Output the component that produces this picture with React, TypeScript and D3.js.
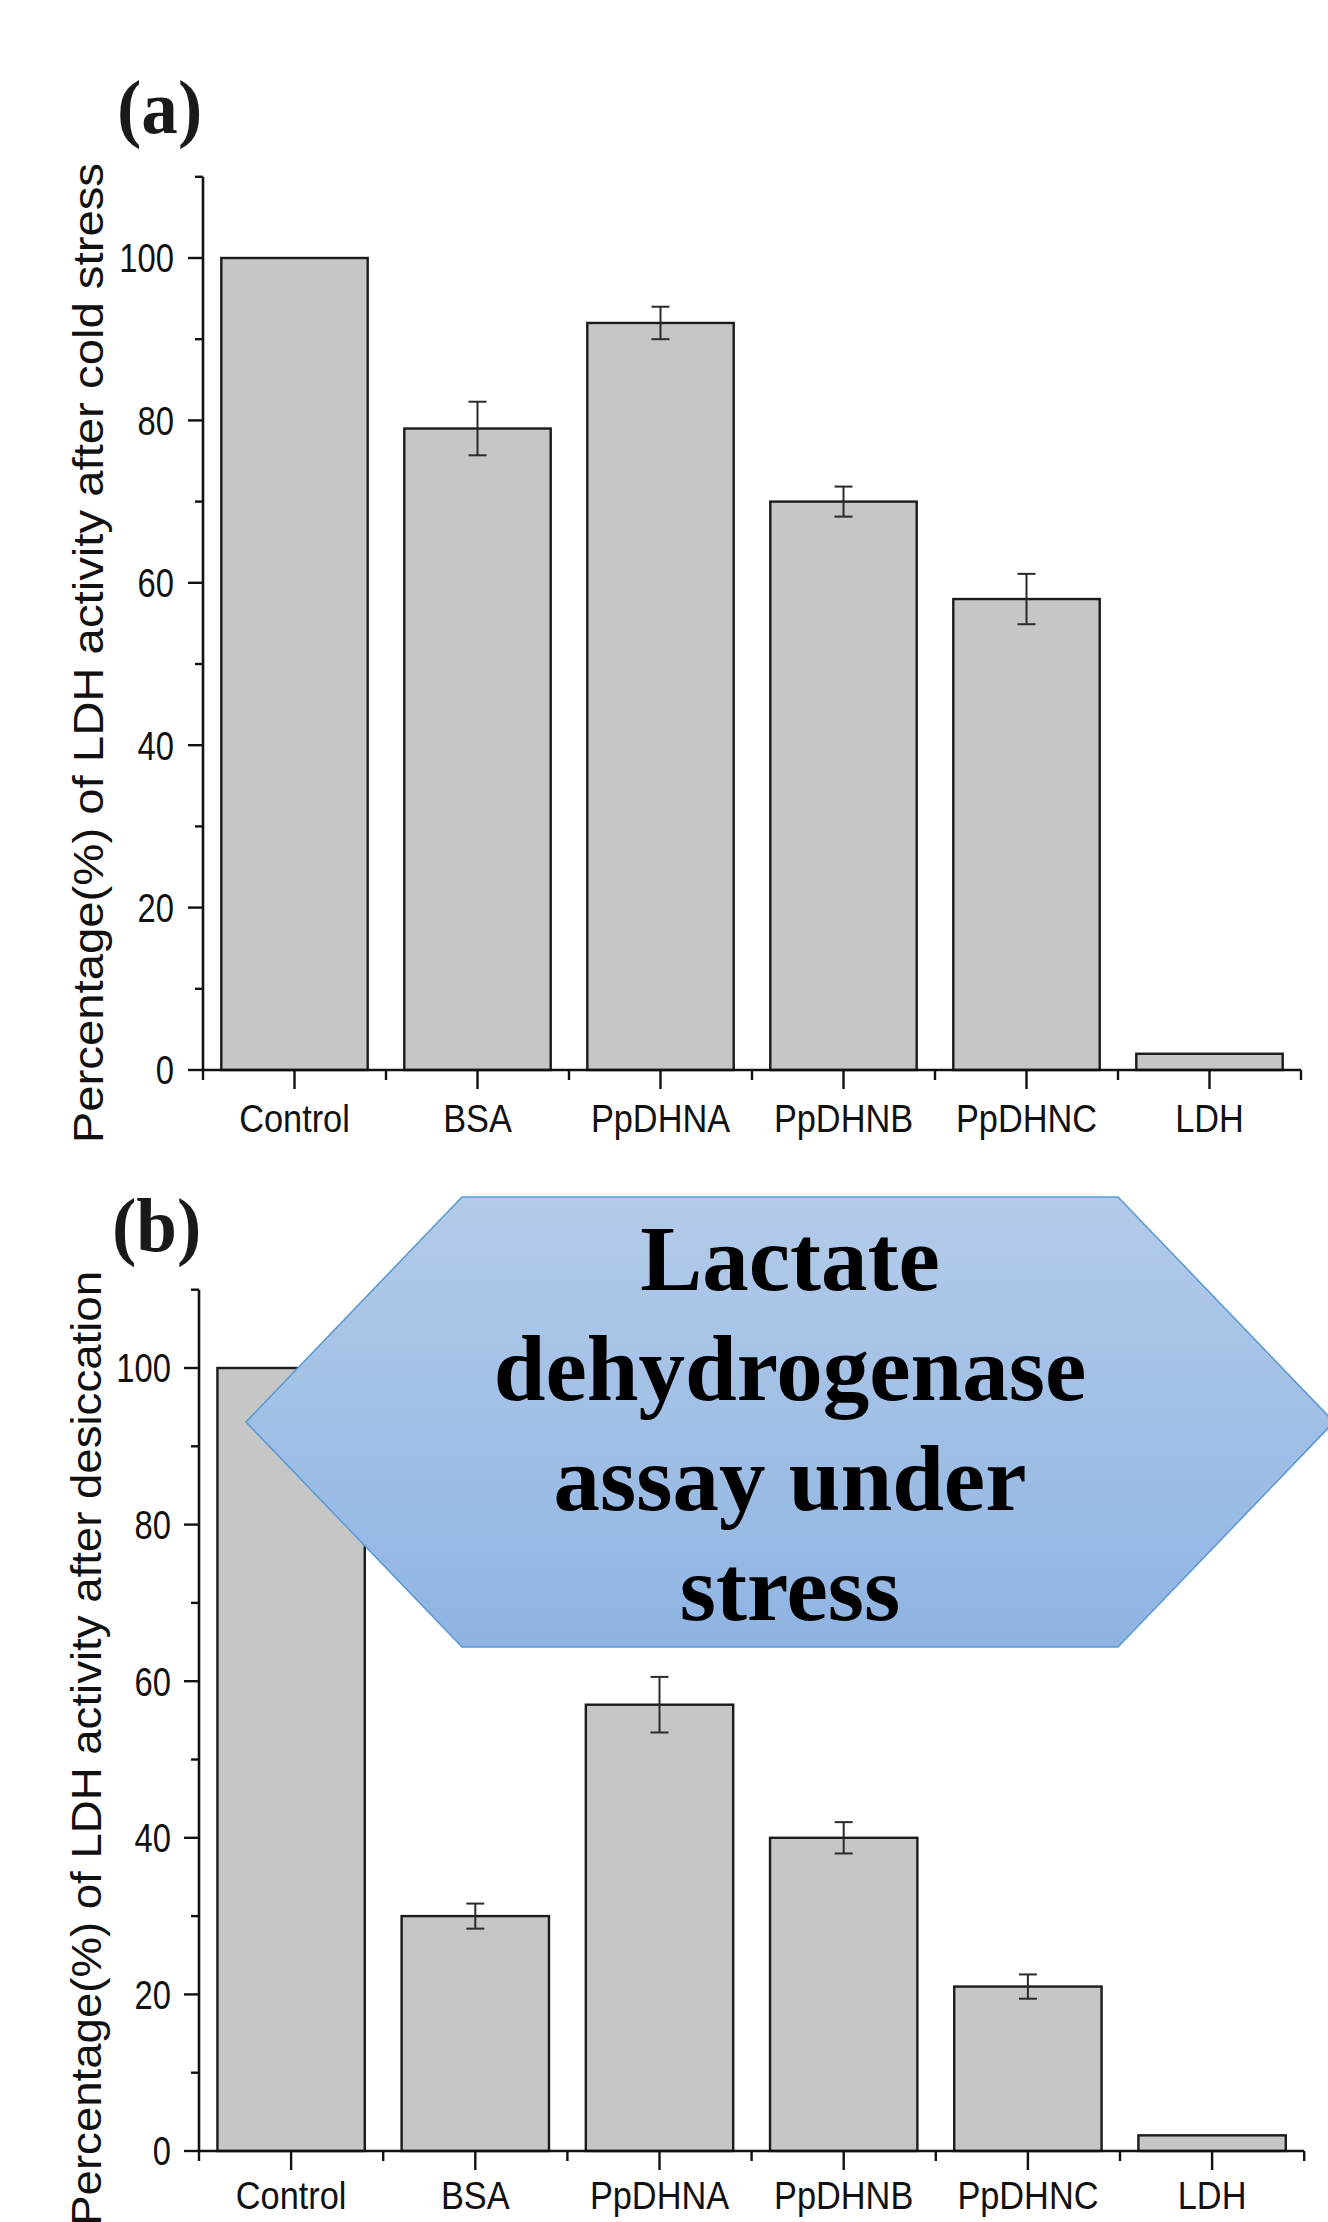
import React from "react";
import * as d3 from "d3";

const categories = ["Control", "BSA", "PpDHNA", "PpDHNB", "PpDHNC", "LDH"];
const coldValues = [100, 79, 92, 70, 58, 2];
const coldErrors = [0, 3.3, 2.0, 1.85, 3.1, 0];
const desiccationValues = [100, 30, 57, 40, 21, 2];
const desiccationErrors = [0, 1.6, 3.55, 2.0, 1.55, 0];
const yMajorTicks = [0, 20, 40, 60, 80, 100];
const yMinorTicks = [10, 30, 50, 70, 90, 110];
const panelLabels = ["(a)", "(b)"];
const yAxisTitles = [
  "Percentage(%) of LDH activity after cold stress",
  "Percentage(%) of LDH activity after desiccation",
];
const calloutLines = ["Lactate", "dehydrogenase", "assay under", "stress"];

const SANS = "'Liberation Sans', Arial, Helvetica, sans-serif";
const SERIF = "'Liberation Serif', 'Times New Roman', Times, serif";

type Layout = {
  xLeft: number;
  step: number;
  yZero: number;
  pxPerUnit: number;
  catBaseline: number;
  tickLabelRight: number;
  titleX: number;
  titleEndY: number;
  titleStretch: number;
  panelLabelX: number;
  panelLabelY: number;
  padding: number;
};

function Panel({
  values,
  errors,
  label,
  title,
  L,
}: {
  values: number[];
  errors: number[];
  label: string;
  title: string;
  L: Layout;
}) {
  const x = d3
    .scaleBand<string>()
    .domain(categories)
    .range([L.xLeft, L.xLeft + L.step * categories.length])
    .paddingInner(L.padding)
    .paddingOuter(L.padding / 2);
  const y = d3
    .scaleLinear()
    .domain([0, 110])
    .range([L.yZero, L.yZero - 110 * L.pxPerUnit]);
  const xr = x.range();
  const stepW = x.step();
  const boundaries = d3.range(categories.length + 1).map((i) => xr[0] + i * stepW);
  const stroke = "#111";
  return (
    <g>
      {categories.map((c, i) => (
        <rect
          key={c}
          x={x(c)}
          y={y(values[i])}
          width={x.bandwidth()}
          height={y(0) - y(values[i])}
          fill="#c6c6c6"
          stroke="#1b1b1b"
          strokeWidth={2.4}
        />
      ))}
      {categories.map((c, i) => {
        if (!errors[i]) return null;
        const cx = (x(c) as number) + x.bandwidth() / 2;
        const t = y(values[i] + errors[i]);
        const b = y(values[i] - errors[i]);
        return (
          <g key={"e" + c} stroke="#2a2a2a" strokeWidth={2}>
            <line x1={cx} x2={cx} y1={t} y2={b} />
            <line x1={cx - 9} x2={cx + 9} y1={t} y2={t} />
            <line x1={cx - 9} x2={cx + 9} y1={b} y2={b} />
          </g>
        );
      })}
      <line x1={xr[0]} x2={xr[0]} y1={y(110)} y2={y(0)} stroke={stroke} strokeWidth={2.6} />
      {yMajorTicks.map((v) => (
        <g key={"ym" + v}>
          <line x1={xr[0] - 15} x2={xr[0]} y1={y(v)} y2={y(v)} stroke={stroke} strokeWidth={2.4} />
          <text
            transform={`translate(${L.tickLabelRight},${y(v)}) scale(0.82,1)`}
            textAnchor="end"
            dy="0.36em"
            fontFamily={SANS}
            fontSize={40}
            fill="#111"
          >
            {v}
          </text>
        </g>
      ))}
      {yMinorTicks.map((v) => (
        <line key={"yn" + v} x1={xr[0] - 8} x2={xr[0]} y1={y(v)} y2={y(v)} stroke={stroke} strokeWidth={2.4} />
      ))}
      <line x1={xr[0] - 1.3} x2={xr[1]} y1={y(0)} y2={y(0)} stroke={stroke} strokeWidth={2.6} />
      {boundaries.map((bx, i) => (
        <line key={"xb" + i} x1={bx} x2={bx} y1={y(0)} y2={y(0) + 10} stroke={stroke} strokeWidth={2.4} />
      ))}
      {categories.map((c) => {
        const cx = (x(c) as number) + x.bandwidth() / 2;
        return (
          <g key={"xt" + c}>
            <line x1={cx} x2={cx} y1={y(0)} y2={y(0) + 19} stroke={stroke} strokeWidth={2.4} />
            <text
              transform={`translate(${cx},${L.catBaseline}) scale(0.88,1)`}
              textAnchor="middle"
              fontFamily={SANS}
              fontSize={39}
              fill="#111"
            >
              {c}
            </text>
          </g>
        );
      })}
      <text
        transform={`translate(${L.titleX},${L.titleEndY}) rotate(-90) scale(${L.titleStretch},1)`}
        textAnchor="end"
        fontFamily={SANS}
        fontSize={43}
        fill="#111"
      >
        {title}
      </text>
      <text
        transform={`translate(${L.panelLabelX},${L.panelLabelY}) scale(0.95,1)`}
        fontFamily={SERIF}
        fontWeight="bold"
        fontSize={77}
        fill="#1a1a1a"
      >
        {label}
      </text>
    </g>
  );
}

const layoutA: Layout = {
  xLeft: 203,
  step: 183,
  yZero: 1070,
  pxPerUnit: 8.12,
  catBaseline: 1132,
  tickLabelRight: 174,
  titleX: 103,
  titleEndY: 163,
  titleStretch: 1.1,
  panelLabelX: 117,
  panelLabelY: 133,
  padding: 0.2,
};

const layoutB: Layout = {
  xLeft: 199,
  step: 184.2,
  yZero: 2151,
  pxPerUnit: 7.83,
  catBaseline: 2209,
  tickLabelRight: 171,
  titleX: 101,
  titleEndY: 1271,
  titleStretch: 1.06,
  panelLabelX: 112,
  panelLabelY: 1251,
  padding: 0.2,
};

function Callout() {
  const pts: [number, number][] = [
    [246, 1422],
    [462, 1197],
    [1118, 1197],
    [1334, 1422],
    [1118, 1647],
    [462, 1647],
  ];
  const path = d3.line()(pts) + "Z";
  const cx = 790;
  const baselines = d3.range(calloutLines.length).map((i) => 1290 + i * 110);
  return (
    <g>
      <defs>
        <linearGradient id="hexGrad" x1="0" y1="0" x2="0" y2="1">
          <stop offset="0%" stopColor="#b3cbe9" />
          <stop offset="100%" stopColor="#8fb4e2" />
        </linearGradient>
      </defs>
      <path d={path} fill="url(#hexGrad)" stroke="#5b9bd5" strokeWidth={1.6} />
      {calloutLines.map((t, i) => (
        <text
          key={t}
          x={cx}
          y={baselines[i]}
          textAnchor="middle"
          fontFamily={SERIF}
          fontWeight="bold"
          fontSize={93}
          fill="#000"
        >
          {t}
        </text>
      ))}
    </g>
  );
}

export default function App() {
  return (
    <svg
      width={1328}
      height={2222}
      viewBox="0 0 1328 2222"
      style={{ position: "absolute", left: 0, top: 0, background: "#fff" }}
    >
      <rect x={0} y={0} width={1328} height={2222} fill="#fff" />
      <Panel values={coldValues} errors={coldErrors} label={panelLabels[0]} title={yAxisTitles[0]} L={layoutA} />
      <Panel
        values={desiccationValues}
        errors={desiccationErrors}
        label={panelLabels[1]}
        title={yAxisTitles[1]}
        L={layoutB}
      />
      <Callout />
    </svg>
  );
}
